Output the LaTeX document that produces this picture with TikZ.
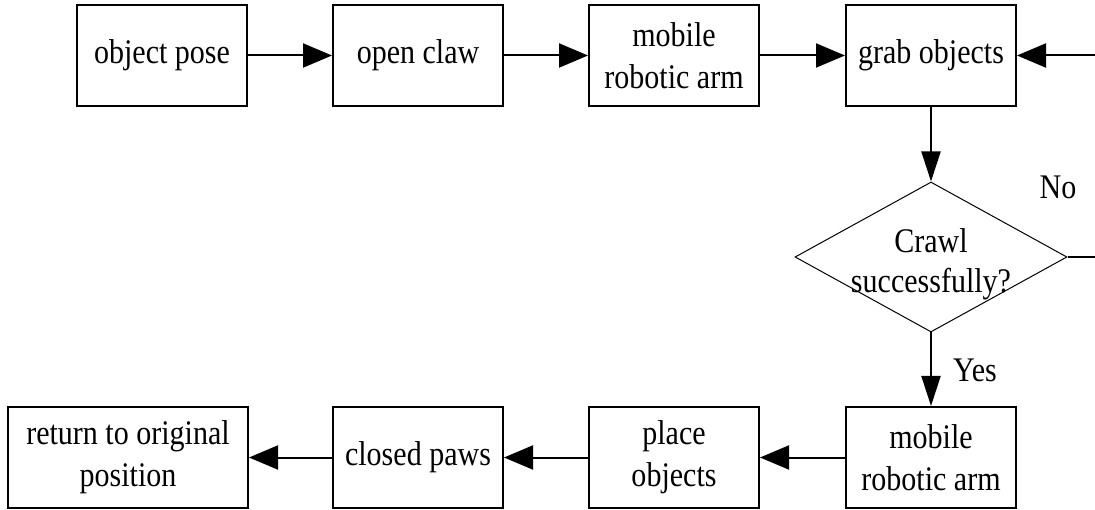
\documentclass[tikz,border=0pt]{standalone}
\usepackage{fontspec}
\setmainfont{Liberation Serif}[FakeStretch=0.87]
\usetikzlibrary{arrows.meta,shapes.geometric}
\tikzset{
  box/.style={draw,line width=2pt,minimum width=170pt,minimum height=101pt,inner sep=0pt,align=center,
    font=\fontsize{34.5}{42}\selectfont},
  dec/.style={draw,diamond,line width=1pt,minimum width=272pt,minimum height=150pt,inner sep=0pt},
  lbl/.style={font=\fontsize{34.5}{40}\selectfont,align=center,inner sep=0pt},
  harr/.style={line width=2pt,-{Triangle[length=29pt,width=24pt]}},
  varr/.style={line width=2pt,-{Triangle[length=30pt,width=19pt]}},
  plain/.style={line width=2pt}
}
\begin{document}
\begin{tikzpicture}[x=1pt,y=-1pt]
\useasboundingbox (0,0) rectangle (1095,510);
% top row
\node[box] (pose) at (162,55.5) {object pose};
\node[box] (claw) at (418,55.5) {open claw};
\node[box] (arm1) at (674,55.5) {mobile\\robotic arm};
\node[box] (grab) at (931,55.5) {grab objects};
% decision
\node[dec] (dia) at (931,257) {};
\node[lbl] (diatext) at (931,264) {Crawl\\successfully?};
% bottom row
\node[box] (arm2) at (931,457.5) {mobile\\robotic arm};
\node[box] (place) at (674,457.5) {place\\objects};
\node[box] (paws) at (418,457.5) {closed paws};
\node[box,minimum width=240pt] (ret) at (128,457.5) {return to original\\position};
% labels
\node[lbl] (no) at (1058,187) {No};
\node[lbl] (yes) at (975,370) {Yes};
% connectors
\draw[harr] (pose) -- (claw);
\draw[harr] (claw) -- (arm1);
\draw[harr] (arm1) -- (grab);
\draw[varr] (grab) -- (dia.north);
\draw[varr] (dia.south) -- (arm2);
\draw[harr] (arm2) -- (place);
\draw[harr] (place) -- (paws);
\draw[harr] (paws) -- (ret);
\coordinate (loop) at (1115,257);
\draw[harr] (dia.east) -- (loop) |- (grab.east);
\end{tikzpicture}
\end{document}
